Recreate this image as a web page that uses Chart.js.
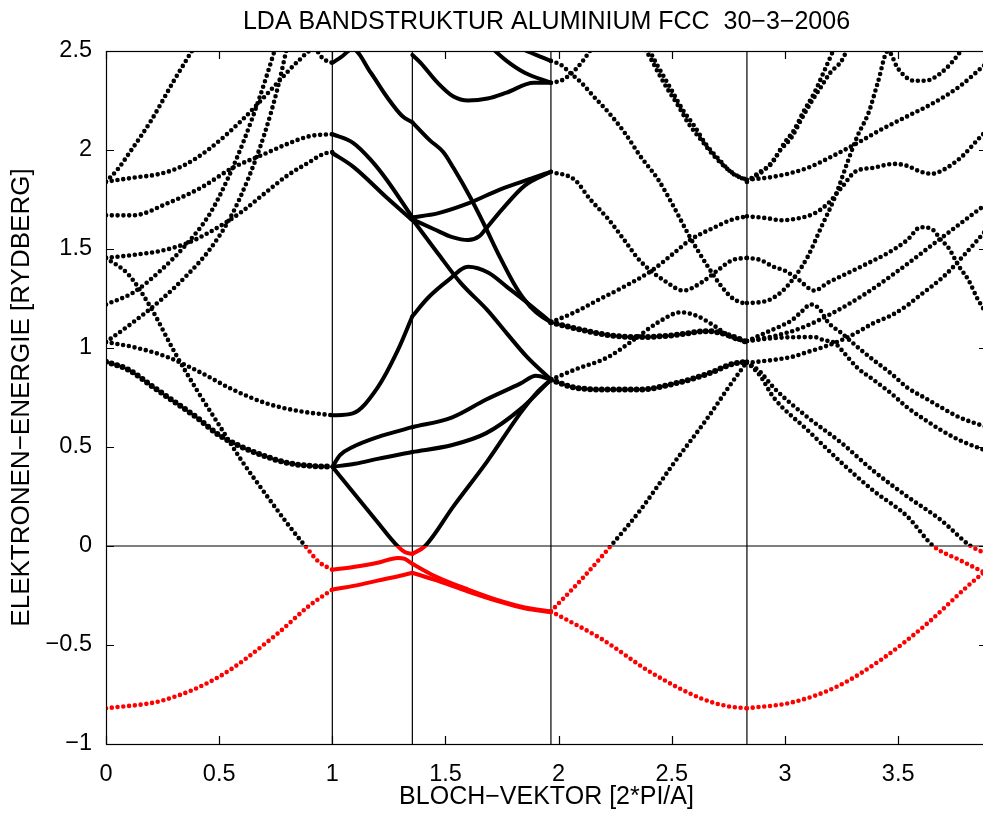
<!DOCTYPE html>
<html>
<head>
<meta charset="utf-8">
<script src="https://cdn.jsdelivr.net/npm/chart.js@4.4.1/dist/chart.umd.min.js"></script>
<style>
html,body{margin:0;padding:0;background:#fff;overflow:hidden}
#wrap{width:990px;height:814px}
</style>
</head>
<body>
<div id="wrap"><canvas id="c" width="990" height="814"></canvas></div>
<script>
// symmetry points along the path  G - X - U|K - L - G - K
const symLines=[1,1.3536,1.9659,2.8319];
const xMax=3.8926;
const xTicks=[0,0.5,1,1.5,2,2.5,3,3.5];
const yTicks=[-1,-0.5,0,0.5,1,1.5,2,2.5];

/* G -> X */
const bandsGX=[
 [[0,-0.82],[0.25,-0.78],[0.5,-0.66],[0.75,-0.45],[0.9,-0.30],[1,-0.22]],
 [[0,1.455],[0.1,1.37],[0.2,1.20],[0.3,0.985],[0.4,0.79],[0.5,0.61],[0.6,0.43],[0.7,0.27],[0.8,0.115],[0.88,0],[0.94,-0.08],[1,-0.12]],
 [[0,1.03],[0.12,1.005],[0.27,0.955],[0.42,0.875],[0.56,0.79],[0.71,0.72],[0.86,0.68],[1,0.66]],
 [[0,1.03],[0.12,1.13],[0.24,1.24],[0.36,1.37],[0.46,1.50],[0.55,1.66],[0.63,1.86],[0.70,2.08],[0.76,2.32],[0.8,2.52]],
 [[0,1.22],[0.12,1.28],[0.24,1.39],[0.36,1.53],[0.46,1.68],[0.54,1.86],[0.61,2.05],[0.68,2.27],[0.75,2.52]],
 [[0,1.455],[0.12,1.47],[0.24,1.49],[0.36,1.53],[0.45,1.58],[0.59,1.68],[0.7,1.78],[0.8,1.87],[0.9,1.94],[0.96,1.98],[1,1.99]],
 [[0,1.67],[0.12,1.67],[0.27,1.73],[0.42,1.81],[0.56,1.91],[0.7,1.98],[0.8,2.03],[0.9,2.07],[1,2.08]],
 [[0,1.84],[0.12,1.86],[0.24,1.88],[0.34,1.92],[0.45,2.0],[0.6,2.15],[0.75,2.33],[0.85,2.45],[0.92,2.51],[0.96,2.46],[1,2.44]],
 [[0,1.84],[0.05,1.90],[0.1,1.98],[0.2,2.15],[0.3,2.35],[0.39,2.52]]
];
const thickGX=[
 [[0,0.93],[0.1,0.89],[0.2,0.81],[0.3,0.73],[0.4,0.65],[0.5,0.56],[0.6,0.50],[0.7,0.455],[0.8,0.42],[0.9,0.405],[1,0.40]]
];

/* X -> U */
const bandsXU=[
 [[1,-0.12],[1.1,-0.105],[1.2,-0.085],[1.29,-0.06],[1.32,-0.065],[1.3536,-0.09]],
 [[1,-0.22],[1.1,-0.20],[1.2,-0.175],[1.3,-0.15],[1.3536,-0.135]],
 [[1,0.40],[1.1,0.26],[1.2,0.12],[1.28,0.01],[1.32,-0.03],[1.3536,-0.04]],
 [[1,0.40],[1.035,0.46],[1.09,0.50],[1.2,0.55],[1.3536,0.60]],
 [[1,0.40],[1.1,0.415],[1.2,0.44],[1.3536,0.475]],
 [[1,0.66],[1.09,0.67],[1.2,0.80],[1.29,0.99],[1.3536,1.16]],
 [[1,1.985],[1.093,1.915],[1.24,1.76],[1.3536,1.645]],
 [[1,2.08],[1.093,2.035],[1.17,1.95],[1.24,1.85],[1.3536,1.66]],
 [[1,2.44],[1.04,2.47],[1.09,2.51],[1.17,2.39],[1.24,2.27],[1.31,2.17],[1.3536,2.14]]
];

/* U -> L */
const bandsUL=[
 [[1.3536,-0.09],[1.45,-0.15],[1.6,-0.22],[1.75,-0.28],[1.85,-0.31],[1.9659,-0.33]],
 [[1.3536,-0.135],[1.45,-0.17],[1.6,-0.23],[1.75,-0.285],[1.85,-0.315],[1.9659,-0.335]],
 [[1.3536,-0.04],[1.41,0],[1.535,0.20],[1.686,0.43],[1.83,0.67],[1.9,0.77],[1.9659,0.84]],
 [[1.3536,0.60],[1.53,0.65],[1.68,0.74],[1.83,0.82],[1.9,0.86],[1.9659,0.84]],
 [[1.3536,0.475],[1.53,0.51],[1.68,0.57],[1.83,0.69],[1.9659,0.84]],
 [[1.3536,1.16],[1.42,1.25],[1.51,1.34],[1.6,1.41],[1.69,1.38],[1.77,1.31],[1.86,1.23],[1.9659,1.13]],
 [[1.3536,1.65],[1.465,1.48],[1.566,1.33],[1.686,1.19],[1.77,1.075],[1.86,0.955],[1.9659,0.84]],
 [[1.3536,1.66],[1.465,1.68],[1.6,1.73],[1.74,1.80],[1.89,1.86],[1.9659,1.89]],
 [[1.3536,1.65],[1.45,1.60],[1.53,1.56],[1.6,1.545],[1.65,1.565],[1.67,1.59],[1.75,1.70],[1.85,1.82],[1.9659,1.89]],
 [[1.3536,2.14],[1.43,2.05],[1.49,1.99],[1.535,1.91],[1.61,1.76],[1.668,1.63],[1.74,1.46],[1.80,1.33],[1.845,1.25],[1.9,1.18],[1.9659,1.13]],
 [[1.3536,2.48],[1.39,2.44],[1.465,2.34],[1.535,2.27],[1.6,2.25],[1.686,2.26],[1.77,2.29],[1.89,2.34],[1.9659,2.34]],
 [[1.70,2.52],[1.77,2.45],[1.85,2.39],[1.9659,2.34]],
 [[1.82,2.52],[1.9,2.48],[1.9659,2.45]]
];

/* L -> G */
const bandsLG=[
 [[1.9659,-0.33],[2.19,-0.47],[2.41,-0.64],[2.63,-0.77],[2.75,-0.81],[2.8319,-0.82]],
 [[1.9659,-0.33],[2.1,-0.17],[2.23,0],[2.36,0.18],[2.51,0.42],[2.66,0.65],[2.75,0.80],[2.8319,0.93]],
 [[1.9659,0.84],[2.07,0.89],[2.22,0.955],[2.33,1.04],[2.44,1.13],[2.54,1.18],[2.615,1.16],[2.69,1.11],[2.77,1.05],[2.8319,1.035]],
 [[1.9659,1.13],[2.07,1.18],[2.17,1.24],[2.29,1.31],[2.41,1.39],[2.51,1.48],[2.58,1.545],[2.69,1.61],[2.77,1.65],[2.8319,1.665]],
 [[1.9659,1.89],[2.07,1.85],[2.14,1.75],[2.22,1.65],[2.29,1.545],[2.36,1.44],[2.48,1.33],[2.55,1.29],[2.63,1.33],[2.70,1.39],[2.77,1.445],[2.8319,1.455]],
 [[1.9659,2.45],[2.01,2.43],[2.05,2.39],[2.10,2.34],[2.155,2.27],[2.22,2.19],[2.29,2.09],[2.36,1.97],[2.44,1.85],[2.51,1.71],[2.58,1.56],[2.66,1.41],[2.72,1.31],[2.77,1.25],[2.8319,1.22]],
 [[1.9659,2.34],[2.01,2.35],[2.05,2.38],[2.10,2.44],[2.15,2.52]],
 [[2.37,2.53],[2.41,2.455],[2.44,2.39],[2.48,2.31],[2.53,2.22],[2.57,2.14],[2.63,2.05],[2.69,1.965],[2.75,1.90],[2.805,1.86],[2.8319,1.85]],
 [[2.39,2.53],[2.43,2.44],[2.46,2.38],[2.50,2.30],[2.55,2.20],[2.60,2.12],[2.65,2.03],[2.71,1.95],[2.77,1.88],[2.8319,1.85]]
];
const thickLG=[
 [[1.9659,0.84],[2.07,0.80],[2.22,0.79],[2.36,0.79],[2.51,0.82],[2.66,0.87],[2.77,0.92],[2.8319,0.93]],
 [[1.9659,1.13],[2.07,1.10],[2.22,1.065],[2.36,1.055],[2.51,1.065],[2.66,1.085],[2.75,1.065],[2.8319,1.03]]
];

/* G -> K */
const bandsGK=[
 [[2.8319,-0.82],[3.03,-0.79],[3.23,-0.71],[3.43,-0.57],[3.63,-0.39],[3.8,-0.21],[3.8926,-0.12]],
 [[2.8319,0.93],[2.89,0.88],[2.95,0.80],[3.10,0.65],[3.25,0.52],[3.39,0.38],[3.54,0.25],[3.69,0.13],[3.82,0],[3.8926,-0.04]],
 [[2.8319,0.93],[2.89,0.86],[2.95,0.75],[3.10,0.585],[3.25,0.42],[3.39,0.28],[3.54,0.15],[3.655,0],[3.77,-0.07],[3.8926,-0.14]],
 [[2.8319,0.925],[2.95,0.94],[3.03,0.955],[3.10,0.98],[3.17,1.005],[3.25,1.04],[3.32,1.08],[3.39,1.125],[3.47,1.165],[3.54,1.215],[3.59,1.26],[3.7,1.36],[3.8,1.48],[3.8926,1.6]],
 [[2.8319,1.035],[2.95,1.05],[3.07,1.055],[3.13,1.055],[3.17,1.04],[3.22,1.025],[3.25,0.99],[3.32,0.90],[3.39,0.84],[3.47,0.77],[3.54,0.70],[3.615,0.64],[3.69,0.585],[3.77,0.535],[3.8926,0.48]],
 [[2.8319,1.035],[2.91,1.075],[2.97,1.105],[3.03,1.14],[3.07,1.18],[3.115,1.22],[3.15,1.2],[3.19,1.13],[3.25,1.075],[3.32,1.005],[3.39,0.94],[3.47,0.87],[3.54,0.80],[3.615,0.75],[3.69,0.70],[3.77,0.65],[3.8926,0.60]],
 [[2.8319,1.035],[2.95,1.06],[3.07,1.10],[3.2,1.17],[3.35,1.27],[3.5,1.39],[3.65,1.52],[3.8,1.65],[3.8926,1.73]],
 [[2.8319,1.227],[2.88,1.23],[2.925,1.24],[2.97,1.27],[3.0,1.3],[3.05,1.37],[3.10,1.46],[3.16,1.61],[3.22,1.76],[3.28,1.95],[3.32,2.07],[3.37,2.19],[3.41,2.34],[3.455,2.5],[3.5,2.41],[3.57,2.35],[3.62,2.35],[3.69,2.39],[3.77,2.49],[3.8,2.55]],
 [[2.8319,1.455],[2.89,1.445],[2.95,1.41],[3.0,1.39],[3.06,1.345],[3.13,1.29],[3.19,1.33],[3.28,1.38],[3.37,1.43],[3.455,1.48],[3.54,1.545],[3.60,1.61],[3.65,1.60],[3.69,1.545],[3.72,1.51],[3.77,1.41],[3.81,1.345],[3.85,1.25],[3.8926,1.17]],
 [[2.8319,1.665],[2.925,1.655],[2.98,1.645],[3.06,1.655],[3.13,1.68],[3.19,1.73],[3.25,1.81],[3.31,1.89],[3.39,1.91],[3.48,1.93],[3.54,1.92],[3.60,1.89],[3.65,1.88],[3.70,1.90],[3.78,1.965],[3.85,2.05],[3.8926,2.1]],
 [[2.8319,1.85],[2.95,1.865],[3.10,1.91],[3.22,1.975],[3.32,2.035],[3.42,2.10],[3.54,2.17],[3.66,2.24],[3.77,2.32],[3.8926,2.44]],
 [[2.8319,1.84],[2.86,1.86],[2.91,1.90],[2.95,1.95],[3.0,2.04],[3.04,2.10],[3.08,2.19],[3.13,2.29],[3.17,2.39],[3.22,2.52]],
 [[2.8319,1.84],[2.89,1.89],[2.94,1.93],[2.98,2.0],[3.03,2.065],[3.07,2.15],[3.115,2.24],[3.16,2.32],[3.20,2.39],[3.25,2.45],[3.28,2.52]]
];

const FONT="'Liberation Sans', Arial, sans-serif";

// black above the Fermi level, red below it
function bandColor(ctx){
 const ch=ctx.chart, a=ch.chartArea;
 if(!a) return "#000";
 const y0=ch.scales.y.getPixelForValue(0);
 const f=Math.min(1,Math.max(0,(y0-a.top)/(a.bottom-a.top)));
 const g=ch.ctx.createLinearGradient(0,a.top,0,a.bottom);
 g.addColorStop(0,"#000");g.addColorStop(f,"#000");
 g.addColorStop(f,"#f00");g.addColorStop(1,"#f00");
 return g;
}

const datasets=[];
function addBands(list,solid,width){
 list.forEach(b=>{
  datasets.push({
   data:b.map(([x,y])=>({x,y})),
   borderColor:bandColor,
   borderWidth:width,
   borderDash:solid?[]:[0,5.8],
   borderCapStyle:"round",
   borderJoinStyle:"round",
   pointRadius:0,
   cubicInterpolationMode:"monotone",
   clip:0
  });
 });
}
addBands(bandsGX,false,4.6);
addBands(thickGX,false,6);
addBands(bandsXU,true,4);
addBands(bandsUL,true,4);
addBands(bandsLG,false,4.6);
addBands(thickLG,false,6);
addBands(bandsGK,false,4.6);

// thin reference lines: symmetry points and Fermi level
symLines.forEach(v=>{
 datasets.push({data:[{x:v,y:-1},{x:v,y:2.5}],borderColor:"#000",borderWidth:1.2,pointRadius:0});
});
datasets.push({data:[{x:0,y:0},{x:xMax,y:0}],borderColor:"#000",borderWidth:1.2,pointRadius:0});

const frame={
 id:"frame",
 afterDatasetsDraw(chart){
  const {ctx,chartArea:a,scales:{x,y}}=chart;
  ctx.save();
  ctx.strokeStyle="#000";ctx.lineWidth=1.2;
  ctx.strokeRect(a.left+0.5,a.top+0.5,a.right-a.left,a.bottom-a.top);
  ctx.beginPath();
  xTicks.forEach(v=>{
   const p=Math.round(x.getPixelForValue(v))+0.5;
   ctx.moveTo(p,a.bottom);ctx.lineTo(p,a.bottom-8);
   ctx.moveTo(p,a.top);ctx.lineTo(p,a.top+8);
  });
  yTicks.forEach(v=>{
   const p=Math.round(y.getPixelForValue(v))+0.5;
   ctx.moveTo(a.left,p);ctx.lineTo(a.left+8,p);
   ctx.moveTo(a.right,p);ctx.lineTo(a.right-8,p);
  });
  ctx.stroke();
  ctx.fillStyle="#000";
  ctx.font="25px "+FONT;
  ctx.textAlign="center";ctx.textBaseline="middle";
  ctx.fillText("LDA BANDSTRUKTUR ALUMINIUM FCC  30\u22123\u22122006",(a.left+a.right)/2,22);
  ctx.restore();
 }
};

const fmt=v=>String(v).replace("-","\u2212");

new Chart(document.getElementById("c"),{
 type:"line",
 data:{datasets},
 options:{
  responsive:false,
  animation:false,
  layout:{padding:{left:0,top:51,right:3,bottom:0}},
  plugins:{legend:{display:false},tooltip:{enabled:false}},
  scales:{
   x:{
    type:"linear",min:0,max:xMax,
    afterFit(s){s.height=70;},
    grid:{display:false},border:{display:false},
    ticks:{stepSize:0.5,includeBounds:false,padding:8,color:"#000",font:{family:FONT,size:23.5},callback:fmt,maxRotation:0},
    title:{display:true,text:"BLOCH\u2212VEKTOR [2*PI/A]",color:"#000",font:{family:FONT,size:25},padding:{top:0,bottom:2}}
   },
   y:{
    type:"linear",min:-1,max:2.5,
    afterFit(s){s.width=106;},
    grid:{display:false},border:{display:false},
    ticks:{stepSize:0.5,padding:6,color:"#000",font:{family:FONT,size:23.5},callback:fmt},
    title:{display:true,text:"ELEKTRONEN\u2212ENERGIE [RYDBERG]",color:"#000",font:{family:FONT,size:26},padding:{top:6,bottom:0}}
   }
  }
 },
 plugins:[frame]
});
</script>
</body>
</html>
